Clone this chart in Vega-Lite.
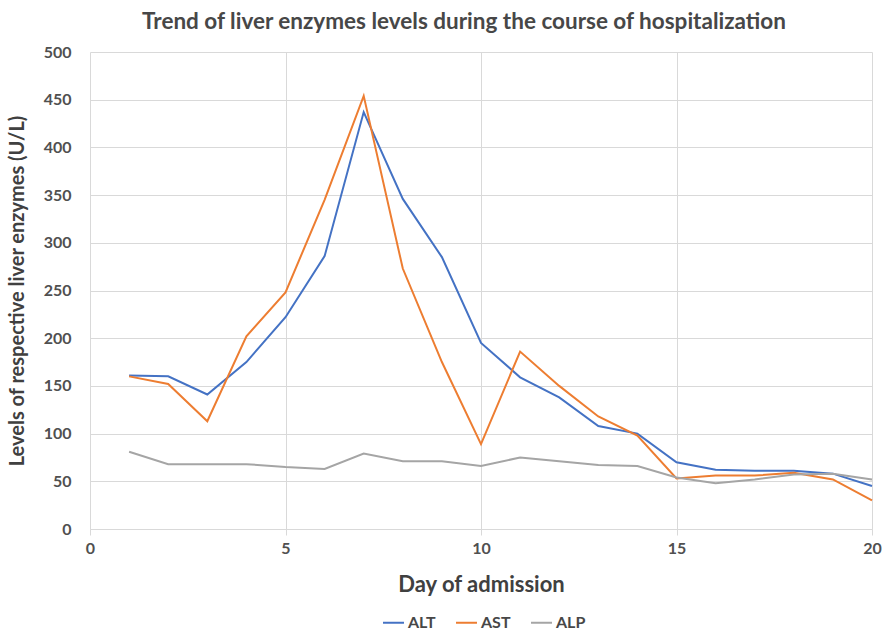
{
  "$schema": "https://vega.github.io/schema/vega-lite/v6.json",
  "width": 782,
  "height": 477,
  "autosize": {"type": "none"},
  "padding": {"left": 90, "top": 52, "right": 18, "bottom": 103},
  "background": "white",
  "config": {
    "font": "Lato",
    "view": {"stroke": null},
    "axis": {"labelFont": "Lato", "titleFont": "Lato", "labelColor": "#505050", "titleColor": "#404040", "gridColor": "#d9d9d9", "gridWidth": 1}
  },
  "title": {
    "text": "Trend of liver enzymes levels during the course of hospitalization",
    "fontSize": 22.5,
    "fontWeight": "bold",
    "color": "#474747",
    "anchor": "middle",
    "dx": -17,
    "offset": 11
  },
  "data": {
    "values": [
      {"day": 1, "enzyme": "ALT", "value": 161},
      {"day": 2, "enzyme": "ALT", "value": 160},
      {"day": 3, "enzyme": "ALT", "value": 141},
      {"day": 4, "enzyme": "ALT", "value": 175},
      {"day": 5, "enzyme": "ALT", "value": 222},
      {"day": 6, "enzyme": "ALT", "value": 286},
      {"day": 7, "enzyme": "ALT", "value": 437},
      {"day": 8, "enzyme": "ALT", "value": 346},
      {"day": 9, "enzyme": "ALT", "value": 285},
      {"day": 10, "enzyme": "ALT", "value": 195},
      {"day": 11, "enzyme": "ALT", "value": 159},
      {"day": 12, "enzyme": "ALT", "value": 138},
      {"day": 13, "enzyme": "ALT", "value": 108},
      {"day": 14, "enzyme": "ALT", "value": 100},
      {"day": 15, "enzyme": "ALT", "value": 70},
      {"day": 16, "enzyme": "ALT", "value": 62},
      {"day": 17, "enzyme": "ALT", "value": 61},
      {"day": 18, "enzyme": "ALT", "value": 61},
      {"day": 19, "enzyme": "ALT", "value": 58},
      {"day": 20, "enzyme": "ALT", "value": 45},
      {"day": 1, "enzyme": "AST", "value": 160},
      {"day": 2, "enzyme": "AST", "value": 152},
      {"day": 3, "enzyme": "AST", "value": 113},
      {"day": 4, "enzyme": "AST", "value": 202},
      {"day": 5, "enzyme": "AST", "value": 248},
      {"day": 6, "enzyme": "AST", "value": 345},
      {"day": 7, "enzyme": "AST", "value": 454},
      {"day": 8, "enzyme": "AST", "value": 273},
      {"day": 9, "enzyme": "AST", "value": 175},
      {"day": 10, "enzyme": "AST", "value": 89},
      {"day": 11, "enzyme": "AST", "value": 186},
      {"day": 12, "enzyme": "AST", "value": 150},
      {"day": 13, "enzyme": "AST", "value": 118},
      {"day": 14, "enzyme": "AST", "value": 98},
      {"day": 15, "enzyme": "AST", "value": 53},
      {"day": 16, "enzyme": "AST", "value": 56},
      {"day": 17, "enzyme": "AST", "value": 56},
      {"day": 18, "enzyme": "AST", "value": 59},
      {"day": 19, "enzyme": "AST", "value": 52},
      {"day": 20, "enzyme": "AST", "value": 30},
      {"day": 1, "enzyme": "ALP", "value": 81},
      {"day": 2, "enzyme": "ALP", "value": 68},
      {"day": 3, "enzyme": "ALP", "value": 68},
      {"day": 4, "enzyme": "ALP", "value": 68},
      {"day": 5, "enzyme": "ALP", "value": 65},
      {"day": 6, "enzyme": "ALP", "value": 63},
      {"day": 7, "enzyme": "ALP", "value": 79},
      {"day": 8, "enzyme": "ALP", "value": 71},
      {"day": 9, "enzyme": "ALP", "value": 71},
      {"day": 10, "enzyme": "ALP", "value": 66},
      {"day": 11, "enzyme": "ALP", "value": 75},
      {"day": 12, "enzyme": "ALP", "value": 71},
      {"day": 13, "enzyme": "ALP", "value": 67},
      {"day": 14, "enzyme": "ALP", "value": 66},
      {"day": 15, "enzyme": "ALP", "value": 54},
      {"day": 16, "enzyme": "ALP", "value": 48},
      {"day": 17, "enzyme": "ALP", "value": 52},
      {"day": 18, "enzyme": "ALP", "value": 57},
      {"day": 19, "enzyme": "ALP", "value": 58},
      {"day": 20, "enzyme": "ALP", "value": 52}
    ]
  },
  "mark": {"type": "line", "strokeWidth": 2},
  "encoding": {
    "x": {
      "field": "day",
      "type": "quantitative",
      "scale": {"domain": [0, 20], "nice": false, "zero": true},
      "axis": {
        "title": "Day of admission",
        "titleFontSize": 22,
        "titleFontWeight": "bold",
        "titlePadding": 18,
        "labelFontSize": 16,
        "labelFontWeight": "bold",
        "labelPadding": 5,
        "labelFlush": false,
        "values": [0, 5, 10, 15, 20],
        "grid": true,
        "domain": true,
        "domainColor": "#d9d9d9",
        "ticks": true,
        "tickColor": "#d9d9d9",
        "tickSize": 6
      }
    },
    "y": {
      "field": "value",
      "type": "quantitative",
      "scale": {"domain": [0, 500], "nice": false},
      "axis": {
        "title": "Levels of respective liver enzymes (U/L)",
        "titleFontSize": 20,
        "titleFontWeight": "bold",
        "titlePadding": 16,
        "labelFontSize": 16,
        "labelFontWeight": "bold",
        "labelPadding": 19,
        "labelFlush": false,
        "values": [0, 50, 100, 150, 200, 250, 300, 350, 400, 450, 500],
        "grid": true,
        "domain": false,
        "ticks": false
      }
    },
    "color": {
      "field": "enzyme",
      "type": "nominal",
      "sort": ["ALT", "AST", "ALP"],
      "scale": {"domain": ["ALT", "AST", "ALP"], "range": ["#4472C4", "#ED7D31", "#A5A5A5"]},
      "legend": {
        "title": null,
        "orient": "none",
        "legendX": 292,
        "legendY": 559,
        "direction": "horizontal",
        "symbolType": "stroke",
        "symbolStrokeWidth": 2,
        "symbolSize": 440,
        "labelFontSize": 16,
        "labelFontWeight": "bold",
        "labelColor": "#474747",
        "labelOffset": 3,
        "columnPadding": 16
      }
    }
  }
}
